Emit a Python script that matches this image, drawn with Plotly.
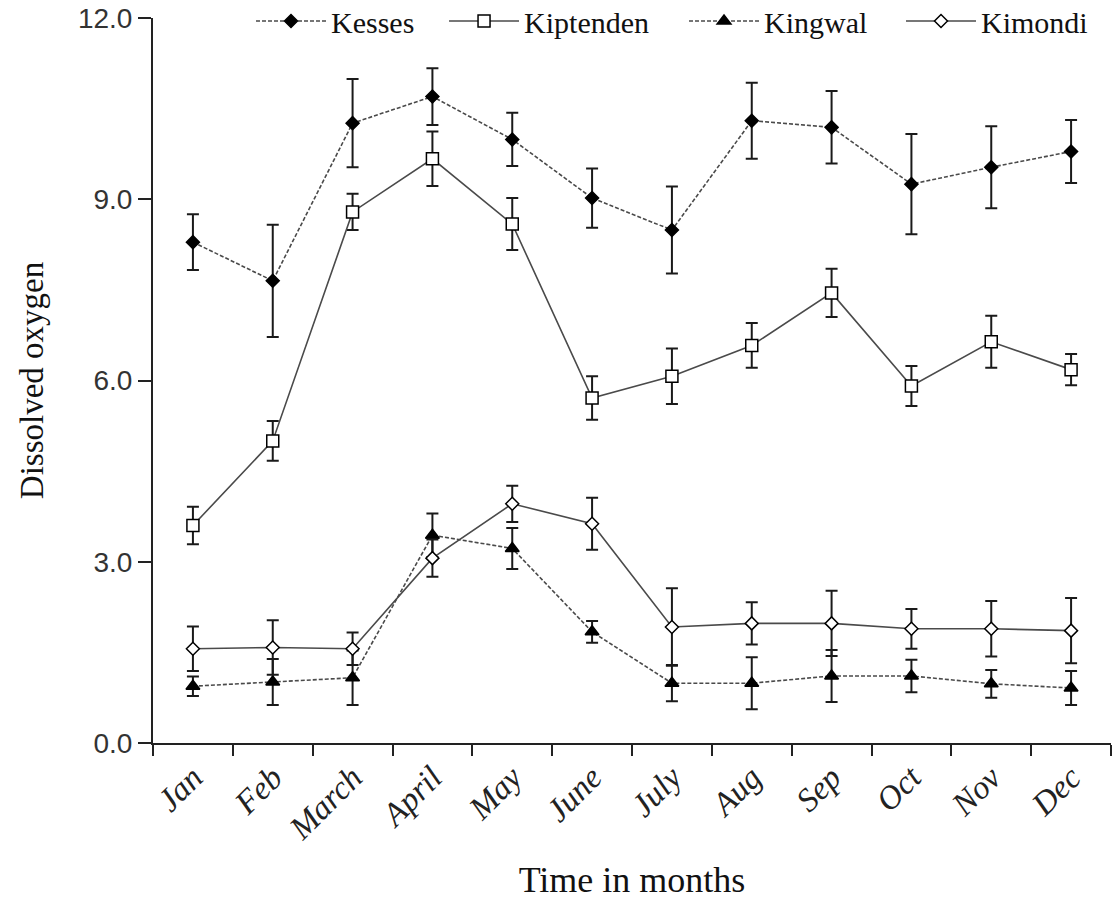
import plotly.graph_objects as go

months = ["Jan", "Feb", "March", "April", "May", "June", "July", "Aug", "Sep", "Oct", "Nov", "Dec"]
kesses = [8.29, 7.65, 10.26, 10.70, 9.99, 9.02, 8.49, 10.30, 10.19, 9.25, 9.53, 9.79]
kesses_err = [0.46, 0.93, 0.73, 0.47, 0.44, 0.49, 0.72, 0.63, 0.60, 0.83, 0.68, 0.52]
kiptenden = [3.60, 5.00, 8.79, 9.67, 8.59, 5.71, 6.07, 6.58, 7.45, 5.91, 6.64, 6.18]
kiptenden_err = [0.31, 0.33, 0.30, 0.45, 0.43, 0.36, 0.46, 0.37, 0.40, 0.33, 0.43, 0.26]
kingwal = [0.94, 1.01, 1.08, 3.44, 3.22, 1.84, 0.99, 0.99, 1.11, 1.11, 0.98, 0.91]
kingwal_err = [0.16, 0.38, 0.45, 0.36, 0.34, 0.18, 0.30, 0.43, 0.43, 0.27, 0.23, 0.28]
kimondi = [1.56, 1.58, 1.56, 3.06, 3.96, 3.63, 1.92, 1.98, 1.98, 1.89, 1.89, 1.86]
kimondi_err = [0.37, 0.45, 0.27, 0.31, 0.30, 0.43, 0.64, 0.35, 0.54, 0.33, 0.46, 0.54]
y_ticks = [0, 3, 6, 9, 12]

series = [
    ("Kesses", kesses, kesses_err, "diamond", "black", "4px,2px", 10, "legend", 0.1023),
    ("Kiptenden", kiptenden, kiptenden_err, "square", "white", "solid", 12, "legend2", 0.3038),
    ("Kingwal", kingwal, kingwal_err, "triangle-up", "black", "4px,2px", 12, "legend3", 0.5543),
    ("Kimondi", kimondi, kimondi_err, "diamond", "white", "solid", 10, "legend4", 0.7808),
]

fig = go.Figure()
legend_layouts = {}
for name, vals, errs, sym, fill, dash, size, leg, lx in series:
    fig.add_trace(go.Scatter(
        x=months, y=vals, name=name, mode="lines+markers", legend=leg,
        line=dict(color="#4a4a4a", width=1.6, dash=dash),
        marker=dict(symbol=sym, size=size, color=fill,
                    line=dict(color="black", width=1.5)),
        error_y=dict(type="data", array=errs, visible=True,
                     color="#1a1a1a", thickness=2, width=6),
    ))
    legend_layouts[leg] = dict(
        orientation="h", x=lx, y=0.9767, xanchor="left", yanchor="middle",
        yref="container",
        bgcolor="rgba(0,0,0,0)", itemwidth=70,
        font=dict(size=30, family="Liberation Serif", color="#111"),
    )

fig.update_layout(
    width=1112, height=900, autosize=False,
    margin=dict(l=153, r=1, t=18, b=157, autoexpand=False),
    paper_bgcolor="white", plot_bgcolor="white",
    font=dict(family="Liberation Serif", color="#111", size=28),
    showlegend=True,
    xaxis=dict(
        type="category", range=[-0.5, 11.5], tickson="boundaries",
        showline=True, linecolor="#222", linewidth=2,
        ticks="outside", ticklen=11, tickwidth=2, tickcolor="#222",
        tickangle=-45, showgrid=False, zeroline=False,
        tickfont=dict(family="Liberation Serif", size=33, style="italic", color="#222"),
        title=dict(text="Time in months", standoff=22,
                   font=dict(family="Liberation Serif", size=36, color="#111")),
    ),
    yaxis=dict(
        range=[0, 12], tickvals=y_ticks, tickformat=".1f",
        showline=True, linecolor="#222", linewidth=2,
        ticks="outside", ticklen=13, tickwidth=2, tickcolor="#222",
        showgrid=False, zeroline=False,
        tickfont=dict(family="Liberation Sans", size=28, color="#333"),
        title=dict(text="Dissolved oxygen", standoff=24,
                   font=dict(family="Liberation Serif", size=33, color="#111")),
    ),
    **legend_layouts,
)

fig.write_html("out.html")
